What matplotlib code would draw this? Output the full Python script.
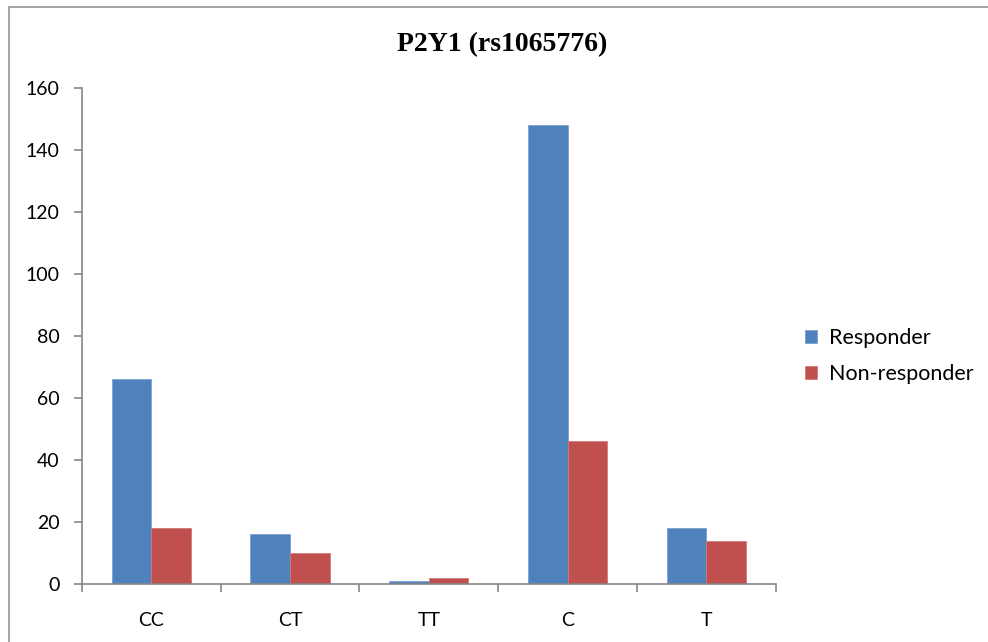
import matplotlib
matplotlib.use("Agg")
import matplotlib.pyplot as plt
import numpy as np
from matplotlib.lines import Line2D

categories = ["CC", "CT", "TT", "C", "T"]
responder = [66, 16, 1, 148, 18]
non_responder = [18, 10, 2, 46, 14]
yticks = [0, 20, 40, 60, 80, 100, 120, 140, 160]
title = "P2Y1 (rs1065776)"

fig = plt.figure(figsize=(9.88, 6.42), dpi=100)
# partial chart border (top and left visible)
fig.lines.append(Line2D([0.009, 1.0], [1 - 7 / 642, 1 - 7 / 642], transform=fig.transFigure,
                        color="#a6a6a6", linewidth=1.5))
fig.lines.append(Line2D([0.009, 0.009], [0.0, 1 - 7 / 642], transform=fig.transFigure,
                        color="#a6a6a6", linewidth=1.5))
ax = fig.add_axes([0.083, 0.0903, 0.702, 0.7727])

x = np.arange(len(categories))
w = 1 / 3.5
ax.bar(x - w / 2, responder, w, color="#4F81BD", edgecolor="#7ea3d1", linewidth=0.6, label="Responder")
ax.bar(x + w / 2, non_responder, w, color="#C0504D", edgecolor="#d07a77", linewidth=0.6, label="Non-responder")

ax.set_xlim(-0.5, len(categories) - 0.5)
ax.set_ylim(0, 160)
ax.set_yticks(yticks)
ax.set_yticklabels([str(v) for v in yticks], fontsize=14, family="Lato")
ax.set_xticks(x)
ax.set_xticklabels(categories, fontsize=14, family="Lato")
ax.set_xticks(np.arange(len(categories) + 1) - 0.5, minor=True)
ax.tick_params(axis="x", which="major", length=0, pad=20)
ax.tick_params(axis="x", which="minor", length=6, color="#868686", width=1.2)
ax.tick_params(axis="y", length=6, color="#868686", width=1.2, pad=10)
for s in ["top", "right"]:
    ax.spines[s].set_visible(False)
for s in ["left", "bottom"]:
    ax.spines[s].set_color("#868686")
    ax.spines[s].set_linewidth(1.2)

fig.text(0.508, 0.93, title, ha="center", va="center", fontsize=20, fontweight="bold",
         family="Liberation Serif")

ax.legend(loc="center left", bbox_to_anchor=(1.015, 0.46), frameon=False,
          prop={"family": "Lato", "size": 15.5}, handlelength=0.55, handleheight=0.55,
          handletextpad=0.55, labelspacing=0.75)

fig.savefig("out.png", dpi=100)
